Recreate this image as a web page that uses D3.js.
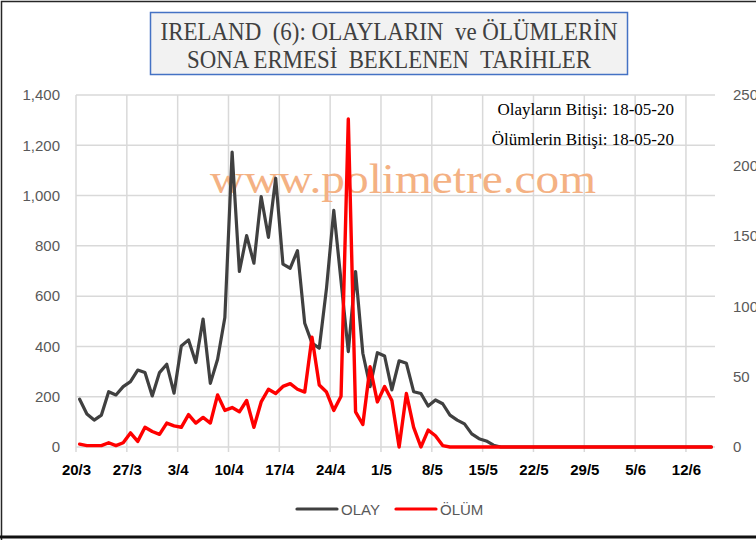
<!DOCTYPE html>
<html>
<head>
<meta charset="utf-8">
<script src="https://cdn.jsdelivr.net/npm/d3@7"></script>
<style>
  html, body { margin: 0; padding: 0; background: #fff; }
  svg { display: block; }
</style>
</head>
<body>
<svg id="chart" width="756" height="540"></svg>
<script>
// Daily series starting 20/3/2020, one value per day
const startDate = "20/3/2020";
const olay = [190,131,107,127,220,207,240,260,306,296,203,296,329,214,402,426,336,509,253,349,
  515,1173,698,841,731,996,834,1069,727,711,781,492,413,393,632,941,660,379,698,373,
  240,375,362,227,343,333,220,213,163,187,172,127,107,92,52,33,24,7,
  0,0,0,0,0,0,0,0,0,0,0,0,0,0,0,0,0,0,0,0,0,0,0,0,0,0,0,0,0,0];
const olum = [2,1,1,1,3,1,3,10,4,14,11,9,17,15,14,23,17,21,17,37,
  26,28,25,33,14,32,41,38,43,45,41,39,78,44,39,26,36,233,25,16,
  57,32,43,33,0,38,14,0,12,8,1,
  0,0,0,0,0,0,0,0,0,0,0,0,0,0,0,0,0,0,0,0,0,0,0,0,0,0,0,0,0,0,0,0,0,0,0,0,0];
const xTickLabels = ["20/3","27/3","3/4","10/4","17/4","24/4","1/5","8/5","15/5","22/5","29/5","5/6","12/6"];
const leftTicks = [0,200,400,600,800,1000,1200,1400];
const rightTicks = [0,50,100,150,200,250];
const titleLines = ["IRELAND  (6): OLAYLARIN  ve ÖLÜMLERİN", "SONA ERMESİ  BEKLENEN  TARİHLER"];
const notes = ["Olayların Bitişi: 18-05-20", "Ölümlerin Bitişi: 18-05-20"];
const seriesNames = ["OLAY", "ÖLÜM"];

const svg = d3.select("#chart");
const W = 756, H = 540;
const plot = { left: 76, right: 715, top: 95, bottom: 447 };

const parse = d3.timeParse("%d/%m/%Y");
const t0 = parse(startDate);
const days = olay.map((_, i) => d3.timeDay.offset(t0, i));
const tickDates = xTickLabels.map(s => parse(s + "/2020"));

const x = d3.scaleTime()
  .domain([t0, d3.timeDay.offset(t0, olay.length)])
  .range([plot.left, plot.right]);
const yL = d3.scaleLinear().domain([0, 1400]).range([plot.bottom, plot.top]);
const yR = d3.scaleLinear().domain([0, 250]).range([plot.bottom, plot.top]);
const mid = d => d3.timeHour.offset(d, 12);

// frame
svg.append("rect").attr("width", W).attr("height", H).attr("fill", "#fff");
svg.append("path").attr("d", `M1.5,${H}V1.5H${W}`).attr("fill", "none").attr("stroke", "#262626").attr("stroke-width", 1.5);
svg.append("line").attr("x1", 0).attr("x2", W).attr("y1", 537).attr("y2", 537)
  .attr("stroke", "#111").attr("stroke-width", 3);

// gridlines
const grid = svg.append("g").attr("stroke", "#d9d9d9").attr("stroke-width", 1.5);
grid.selectAll(".h").data(leftTicks).join("line")
  .attr("x1", plot.left).attr("x2", plot.right)
  .attr("y1", d => yL(d)).attr("y2", d => yL(d));
grid.selectAll(".v").data(tickDates).join("line")
  .attr("x1", d => x(d)).attr("x2", d => x(d))
  .attr("y1", plot.top).attr("y2", plot.bottom + 5);

// watermark
svg.append("text")
  .attr("x", 210).attr("y", 193)
  .attr("textLength", 386).attr("lengthAdjust", "spacingAndGlyphs")
  .style("font-family", "Liberation Serif, Times New Roman, serif")
  .style("font-size", "42px")
  .attr("fill", "#f4b183")
  .text("www.polimetre.com");

// left axis
const axL = svg.append("g").attr("transform", `translate(${plot.left},0)`)
  .call(d3.axisLeft(yL).tickValues(leftTicks).tickFormat(d3.format(",")).tickSize(0).tickPadding(16));
axL.select(".domain").remove();
axL.selectAll("text").attr("fill", "#595959")
  .style("font-family", "Liberation Sans, Arial, sans-serif").style("font-size", "15px");

// right axis
const axR = svg.append("g").attr("transform", `translate(${plot.right},0)`)
  .call(d3.axisRight(yR).tickValues(rightTicks).tickSize(0).tickPadding(18));
axR.select(".domain").remove();
axR.selectAll("text").attr("fill", "#595959")
  .style("font-family", "Liberation Sans, Arial, sans-serif").style("font-size", "15px");

// bottom axis
const axB = svg.append("g").attr("transform", `translate(0,${plot.bottom})`)
  .call(d3.axisBottom(x).tickValues(tickDates).tickFormat((d, i) => xTickLabels[i]).tickSize(0).tickPadding(17));
axB.select(".domain").remove();
axB.selectAll("text").attr("fill", "#000")
  .style("font-family", "Liberation Sans, Arial, sans-serif").style("font-size", "15px").style("font-weight", "bold");

// lines
const lineL = d3.line().x((d, i) => x(mid(days[i]))).y(d => yL(d));
const lineR = d3.line().x((d, i) => x(mid(days[i]))).y(d => yR(d));
svg.append("path").datum(olay).attr("d", lineL)
  .attr("fill", "none").attr("stroke", "#404040").attr("stroke-width", 3.2)
  .attr("stroke-linejoin", "round").attr("stroke-linecap", "round");
svg.append("path").datum(olum).attr("d", lineR)
  .attr("fill", "none").attr("stroke", "#ff0000").attr("stroke-width", 3.4)
  .attr("stroke-linejoin", "round").attr("stroke-linecap", "round");

// notes
svg.selectAll(".note").data(notes).join("text")
  .attr("x", 674).attr("y", (d, i) => 115 + i * 30)
  .attr("text-anchor", "end")
  .style("font-family", "Liberation Serif, Times New Roman, serif")
  .style("font-size", "17px").attr("fill", "#000")
  .text(d => d);

// title box
svg.append("rect").attr("x", 150.5).attr("y", 12.5).attr("width", 477).attr("height", 62)
  .attr("fill", "#f2f2f2").attr("stroke", "#4472c4").attr("stroke-width", 1.5);
const titleLen = [457, 404];
svg.selectAll(".title").data(titleLines).join("text")
  .attr("x", 389).attr("y", (d, i) => 40 + i * 28)
  .attr("text-anchor", "middle")
  .attr("textLength", (d, i) => titleLen[i]).attr("lengthAdjust", "spacingAndGlyphs")
  .style("white-space", "pre")
  .style("font-family", "Liberation Serif, Times New Roman, serif")
  .style("font-size", "25px").attr("fill", "#404040")
  .text(d => d);

// legend
const legend = svg.append("g").attr("transform", "translate(297,509)");
const lgColors = ["#404040", "#ff0000"];
const lgX = [0, 99];
seriesNames.forEach((name, i) => {
  legend.append("line").attr("x1", lgX[i]).attr("x2", lgX[i] + 40).attr("y1", 0).attr("y2", 0)
    .attr("stroke", lgColors[i]).attr("stroke-width", 3.2).attr("stroke-linecap", "round");
  legend.append("text").attr("x", lgX[i] + 44).attr("y", 6)
    .style("font-family", "Liberation Sans, Arial, sans-serif").style("font-size", "15px")
    .attr("fill", "#595959").text(name);
});
</script>
</body>
</html>
